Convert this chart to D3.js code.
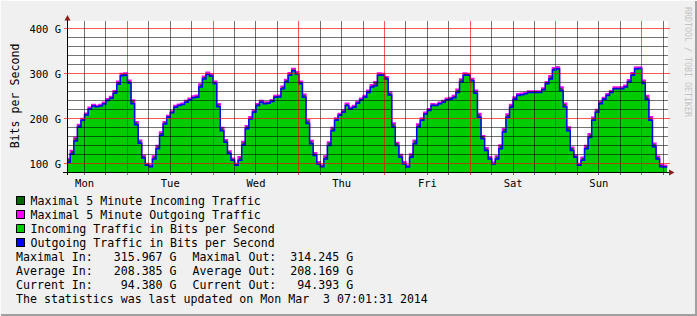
<!DOCTYPE html>
<html><head><meta charset="utf-8">
<script src="https://cdn.jsdelivr.net/npm/d3@7"></script>
<style>
html,body{margin:0;padding:0;background:#f0f0f0;}
svg{display:block;}
text{font-family:"DejaVu Sans Mono",monospace;}
</style></head><body>
<svg id="c" width="697" height="316"></svg>
<script>
// hourly samples, Mon Feb 24 2014 07:00 -> Mon Mar 3 2014 07:00 (Gbit/s)
const inValues = [
103,120,150,180,196,208,220,228,226,228,232,240,245,256,275,295,296,278,233,185,145,112,96,93,
110,133,162,188,203,213,225,229,231,236,241,246,247,270,288,298,294,277,225,173,147,122,107,96,
107,140,177,199,214,229,236,233,234,238,247,248,266,281,296,307,299,277,247,188,144,118,99,93,
110,140,173,196,207,214,229,221,225,234,241,247,258,270,273,296,296,288,251,181,140,114,99,92,
114,144,181,196,210,218,229,229,233,236,241,243,246,258,281,296,296,284,255,203,155,129,110,99,
110,133,170,203,225,243,251,253,255,258,258,258,258,264,277,288,309,310,262,225,173,129,114,96,
107,133,158,196,214,233,243,251,258,266,266,266,270,281,296,311,311,277,243,196,136,110,93,92,
94];
const outValues = [
103,121,150,181,196,208,221,228,226,228,232,240,245,256,276,295,296,279,233,186,145,112,96,93,
110,133,163,188,203,213,225,229,231,236,241,246,247,270,288,298,294,277,226,173,147,122,107,96,
107,141,177,199,214,229,236,233,234,238,247,248,266,281,296,306,299,277,247,189,144,118,99,93,
110,140,173,196,207,214,229,221,225,234,241,247,258,270,273,296,296,288,252,181,140,114,99,92,
114,144,181,196,210,218,229,229,233,236,241,243,246,258,281,296,296,284,256,203,155,129,110,99,
110,133,170,203,225,243,251,253,255,258,258,258,258,264,277,288,308,310,262,226,173,129,114,96,
107,133,158,196,214,233,243,251,258,266,266,266,270,281,296,310,311,278,243,196,137,110,93,92,
94];
const maxInValues = [
110,128,158,186,200,212,224,231,229,231,236,244,249,262,282,300,301,284,240,192,152,118,100,97,
117,140,169,193,207,217,229,232,234,240,245,250,252,277,294,303,299,283,232,180,153,128,112,100,
115,148,184,204,219,233,240,237,237,242,251,252,272,287,302,312,304,283,254,196,151,124,104,97,
117,148,180,201,211,219,234,225,229,238,245,251,263,275,282,301,300,293,258,190,147,120,104,96,
121,152,188,201,214,222,233,232,236,240,245,247,251,265,288,301,300,289,262,211,162,135,115,103,
117,141,178,210,231,248,255,256,258,261,261,261,261,268,282,295,314,316,270,233,181,136,119,100,
114,140,166,203,220,238,247,255,262,270,270,270,274,286,302,315,315,284,251,204,144,116,98,96,
97];
const maxOutValues = [
111,129,158,187,200,212,225,231,229,231,236,244,249,262,283,300,301,285,241,193,152,118,100,97,
117,140,170,193,207,217,229,232,234,240,245,250,252,277,294,303,299,283,233,180,153,128,112,100,
115,149,184,204,219,233,240,237,237,242,251,252,272,287,302,311,304,283,254,197,151,124,104,97,
117,148,180,201,211,219,234,225,229,238,245,251,263,275,282,301,300,293,259,190,147,120,104,96,
121,152,188,201,214,222,233,232,236,240,245,247,251,265,288,301,300,289,263,211,162,135,115,103,
117,141,178,210,231,248,255,256,258,261,261,261,261,268,282,295,313,314,270,234,181,136,119,100,
114,140,166,203,220,238,247,255,262,270,270,270,274,286,302,314,314,285,251,204,145,116,98,96,
97];
const dayLabels = ["Mon","Tue","Wed","Thu","Fri","Sat","Sun"];
const yTickValues = [100,200,300,400];
const yTickLabels = ["100 G","200 G","300 G","400 G"];
const legendLabels = [
  "Maximal 5 Minute Incoming Traffic",
  "Maximal 5 Minute Outgoing Traffic",
  "Incoming Traffic in Bits per Second",
  "Outgoing Traffic in Bits per Second"];
const legendColors = ["#006600","#ff00ff","#00cc00","#0000ff"];
const statLeft = [
  "Maximal In:   315.967 G",
  "Average In:   208.385 G",
  "Current In:    94.380 G"];
const statRight = [
  "Maximal Out:  314.245 G",
  "Average Out:  208.169 G",
  "Current Out:   94.393 G"];
const updatedLine = "The statistics was last updated on Mon Mar  3 07:01:31 2014";

const W = 697, H = 316;
const svg = d3.select("#c");
svg.append("rect").attr("width", W).attr("height", H).attr("fill", "#f0f0f0");
// 3D frame
svg.append("path").attr("d", `M0,${H} V0 H${W}`).attr("fill","none").attr("stroke","#fcfcfc").attr("stroke-width",2);
svg.append("path").attr("d", `M1,${H-1} H${W-1} V1`).attr("fill","none").attr("stroke","#a0a0a0").attr("stroke-width",2);

const startTime = new Date(2014, 1, 24, 7, 0, 0);
const end = new Date(2014, 2, 3, 7, 1, 31);
const begin = new Date(end.getTime() - 7 * 864e5);
const x = d3.scaleTime().domain([begin, end]).range([66.8, 666.8]);
const y = d3.scaleLinear().domain([80, 400]).range([172.5, 28.5]);
const times = inValues.map((d, i) => d3.timeHour.offset(startTime, i));

const PL = 67, PR = 668, PT = 21, PB = 172;
svg.append("rect").attr("x", PL).attr("y", PT).attr("width", PR - PL).attr("height", PB - PT).attr("fill", "#ffffff");

svg.append("clipPath").attr("id", "clip").append("rect")
  .attr("x", PL).attr("y", PT).attr("width", PR - PL).attr("height", PB - PT + 0.5);
const plot = svg.append("g").attr("clip-path", "url(#clip)");

const area = vals => d3.area().curve(d3.curveStepAfter)
  .x((d, i) => x(times[i])).y0(y(80)).y1(d => y(d))(vals);
const line = vals => d3.line().curve(d3.curveStepAfter)
  .x((d, i) => x(times[i])).y(d => y(d))(vals);

plot.append("path").attr("d", area(maxInValues)).attr("fill", "#006600");
plot.append("path").attr("d", line(maxOutValues)).attr("fill", "none").attr("stroke", "#ff00ff").attr("stroke-width", 1.4);
plot.append("path").attr("d", area(inValues)).attr("fill", "#00cc00");
plot.append("path").attr("d", line(outValues)).attr("fill", "none").attr("stroke", "#0000ff").attr("stroke-width", 1.5);

// grid (drawn over data, semi-transparent)
const grid = svg.append("g");
const ticks6 = d3.timeHour.every(6).range(begin, end);
ticks6.forEach(t => {
  const major = t.getHours() === 0;
  const xx = Math.floor(x(t)) + 0.5;
  grid.append("line").attr("x1", xx).attr("x2", xx).attr("y1", PT).attr("y2", 175)
    .attr("stroke", major ? "rgba(255,0,0,0.65)" : "rgba(0,0,0,0.55)").attr("stroke-width", 1);
});
d3.range(100, 401, 20).forEach(v => {
  const major = v % 100 === 0;
  const yy = Math.floor(y(v)) + 0.5;
  grid.append("line").attr("x1", major ? 64 : PL).attr("x2", major ? 670 : PR).attr("y1", yy).attr("y2", yy)
    .attr("stroke", major ? "rgba(255,0,0,0.65)" : "rgba(0,0,0,0.55)").attr("stroke-width", 1);
});

// axes
const axisY = Math.floor(y(80)) + 0.5;
svg.append("line").attr("x1", 63).attr("x2", 669).attr("y1", axisY).attr("y2", axisY).attr("stroke", "#000");
svg.append("line").attr("x1", 67.5).attr("x2", 67.5).attr("y1", 20).attr("y2", 175).attr("stroke", "#000");
svg.append("path").attr("d", "M67.5,15 L64.5,20.5 L70.5,20.5 Z").attr("fill", "#8b1a1a");
svg.append("path").attr("d", `M674.5,${axisY} L669,${axisY - 3} L669,${axisY + 3} Z`).attr("fill", "#8b1a1a");

// y tick labels
yTickValues.forEach((v, i) => {
  svg.append("text").attr("x", 61).attr("y", Math.floor(y(v)) + 4.5).attr("text-anchor", "end")
    .attr("font-size", "10.5px").attr("fill", "#000").text(yTickLabels[i]);
});
// day labels at noon
dayLabels.forEach((d, i) => {
  const noon = new Date(2014, 1, 24 + i, 12, 0, 0);
  svg.append("text").attr("x", x(noon)).attr("y", 187).attr("text-anchor", "middle")
    .attr("font-size", "10.5px").attr("fill", "#000").text(d);
});
// y title
svg.append("text").attr("transform", "translate(18.5,96) rotate(-90)").attr("text-anchor", "middle")
  .attr("font-size", "11.6px").attr("fill", "#000").text("Bits per Second");
// watermark
svg.append("text").attr("transform", "translate(685,7) rotate(90)").attr("text-anchor", "start")
  .attr("font-size", "8.3px").attr("fill", "#c4c4c4").text("RRDTOOL / TOBI OETIKER");

// legend
legendLabels.forEach((l, i) => {
  const yy = 196.5 + i * 14;
  svg.append("rect").attr("x", 16.5).attr("y", yy).attr("width", 8).attr("height", 8)
    .attr("fill", legendColors[i]).attr("stroke", "#000");
  svg.append("text").attr("x", 30.5).attr("y", yy + 8).attr("font-size", "11.6px").attr("fill", "#000")
    .style("white-space", "pre").text(l);
});
statLeft.forEach((l, i) => {
  svg.append("text").attr("x", 16).attr("y", 260.5 + i * 14).attr("font-size", "11.6px").attr("fill", "#000")
    .style("white-space", "pre").text(l);
  svg.append("text").attr("x", 192.6).attr("y", 260.5 + i * 14).attr("font-size", "11.6px").attr("fill", "#000")
    .style("white-space", "pre").text(statRight[i]);
});
svg.append("text").attr("x", 16).attr("y", 260.5 + 3 * 14).attr("font-size", "11.6px").attr("fill", "#000")
  .style("white-space", "pre").text(updatedLine);
</script></body></html>
